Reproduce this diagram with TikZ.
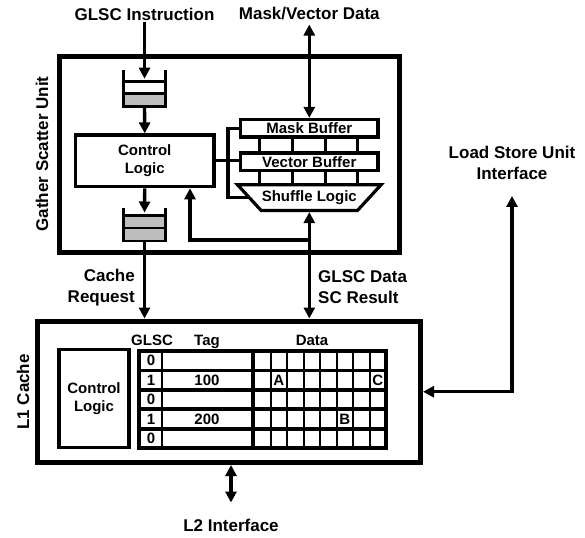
\documentclass[tikz,border=0pt]{standalone}
\usepackage{fontspec}
\setmainfont{Liberation Sans}
\usetikzlibrary{arrows.meta,positioning,calc}
\definecolor{qgray}{RGB}{190,190,190}
\tikzset{
  gunit/.style={draw,line width=5pt,inner sep=0pt},
  glogic/.style={draw,line width=3.2pt,align=center,inner sep=0pt,
                 font=\fontsize{15}{18.5}\selectfont\bfseries},
  gbuf/.style={draw,line width=3.2pt,inner sep=0pt,minimum width=137.5pt,minimum height=17.5pt,
               font=\fontsize{15}{18}\selectfont\bfseries},
  gshuf/.style={inner sep=0pt,outer sep=0pt,minimum width=143.7pt,minimum height=25.8pt,
                font=\fontsize{15}{18}\selectfont\bfseries},
  gqslot/.style={draw,line width=2.8pt,inner sep=0pt,outer sep=0pt,minimum width=42pt},
  gqwall/.style={line width=2.8pt},
  glabel/.style={align=center,inner sep=2pt,font=\fontsize{17}{21}\selectfont\bfseries},
  gsmall/.style={inner sep=0pt,font=\fontsize{15}{18}\selectfont\bfseries},
  gline/.style={line width=3.2pt},
  garrow/.style={-{Triangle[length=11pt,width=11pt]},line width=3.4pt},
  gdarrow/.style={{Triangle[length=11pt,width=11pt]}-{Triangle[length=11pt,width=11pt]},line width=3.4pt},
}

\begin{document}
\begin{tikzpicture}[x=1pt,y=-1pt]
\useasboundingbox (0,0) rectangle (585,537);

% ============ gather scatter unit ============
\node[gunit,minimum width=340pt,minimum height=195.5pt] (gsu) at (229,154.25) {};
\node[glabel,rotate=90] (gsulab) at (42,154) {Gather Scatter Unit};
\node[glabel] (instr) at (144.5,14) {GLSC Instruction};
\node[glabel] (mvdata) at (309.3,14) {Mask/Vector Data};

% instruction queue
\node[gqslot,minimum height=11.6pt] (iqa) at (144.5,87.5) {};
\node[gqslot,minimum height=13.4pt,fill=qgray] (iqb) at (144.5,100) {};
\draw[gqwall] ([yshift=12pt]iqa.north west) |- (iqb.south east) -- ([yshift=12pt]iqa.north east);

\node[glogic,minimum width=138.5pt,minimum height=51.7pt] (ctrl) at (144.75,160.85) {Control\\Logic};

% request queue
\node[gqslot,minimum height=12.5pt,fill=qgray] (oqa) at (144.5,221.75) {};
\node[gqslot,minimum height=13pt,fill=qgray] (oqb) at (144.5,234.5) {};
\draw[gqwall] ([yshift=7.5pt]oqa.north west) |- (oqb.south east) -- ([yshift=7.5pt]oqa.north east);

\draw[garrow] (instr.south) -- ([yshift=3pt]iqa.north);
\draw[garrow] (iqb.south) -- (ctrl.north);
\draw[garrow] (ctrl.south) -- ([yshift=3pt]oqa.north);

% buffers and shuffle
\node[gbuf] (maskbuf) at (309.3,128.25) {Mask Buffer};
\node[gbuf] (vecbuf) at (309.3,161.75) {Vector Buffer};
\node[gshuf] (shuf) at (309.3,197.6) {Shuffle Logic};
\draw[gline] (shuf.north west) -- (shuf.north east) -- ([xshift=-23.7pt]shuf.south east)
  -- ([xshift=23.7pt]shuf.south west) -- cycle;
\foreach \o in {20.2,53.5,86.2,118.8} {
  \draw[gline] ([xshift=\o pt]maskbuf.south west) -- ([xshift=\o pt]vecbuf.north west);
  \draw[gline] ([xshift=\o pt]vecbuf.south west) -- ([xshift=\o pt]vecbuf.south west |- shuf.north);
}
\coordinate (brk) at (228,0);
\draw[gline] (maskbuf.west) -| (brk |- shuf.west) -- ([xshift=11.85pt]shuf.west);
\draw[gline] (ctrl.east) -- (ctrl.east -| vecbuf.west);
\draw[gdarrow,shorten <=2pt] (mvdata.south) -- (maskbuf.north);

% feedback to control logic
\coordinate (fb) at (309.3,240);
\coordinate (fbup) at (190,0);
\draw[garrow] (fb) -| (fbup |- ctrl.south);

% ============ L1 cache ============
\node[gunit,minimum width=383pt,minimum height=141.5pt] (l1) at (229,391.75) {};
\node[glabel,rotate=90] (l1lab) at (23,392) {L1 Cache};
\node[glabel,anchor=east,align=right] (creq) at (137,287.5) {Cache\\Request};
\node[glabel,anchor=west,align=left] (gdata) at (316,287.5) {GLSC Data\\SC Result};
\draw[garrow] (oqb.south) -- (oqb.south |- l1.north);
\draw[gdarrow,shorten <=1.6pt] (shuf.south) -- (shuf.south |- l1.north);

\node[glogic,minimum width=70pt,minimum height=98.3pt] (l1ctrl) at (94,398.7) {Control\\Logic};

% tag / data array
\node[gsmall,anchor=base] (hglsc) at (152,345.5) {GLSC};
\node[gsmall,anchor=base] (htag) at (207,345.5) {Tag};
\node[gsmall,anchor=base] (hdata) at (312,345.5) {Data};
\foreach \rw/\gb/\tg in {0/0/{},1/1/100,2/0/{},3/1/200,4/0/{}} {
  \node[gsmall] (g\rw) at (151,360.7+19.4*\rw) {\gb};
  \node[gsmall] (t\rw) at (207,360.7+19.4*\rw) {\tg};
}
\foreach \c in {1,...,7} \draw[line width=2pt] (254+16.5*\c,351) -- (254+16.5*\c,448);
\draw[line width=2pt] (162,351) -- (162,448);
\foreach \rw in {1,...,4} \draw[line width=3.8pt] (139,351+19.4*\rw) -- (386,351+19.4*\rw);
\draw[line width=4.2pt] (253,351) -- (253,448);
\draw[line width=3.2pt] (139,351) rectangle (386,448);
\node[gsmall] (ca) at (278.75,380.1) {A};
\node[gsmall] (cc) at (377.75,380.1) {C};
\node[gsmall] (cb) at (344.75,418.9) {B};

% ============ outside interfaces ============
\node[glabel] (lsu) at (512,163) {Load Store Unit\\Interface};
\draw[gdarrow,shorten <=14pt] (lsu.south) |- (l1.east);
\node[glabel] (l2) at (231,525) {L2 Interface};
\draw[gdarrow,shorten >=14pt] (l2.north |- l1.south) -- (l2.north);
\end{tikzpicture}
\end{document}
